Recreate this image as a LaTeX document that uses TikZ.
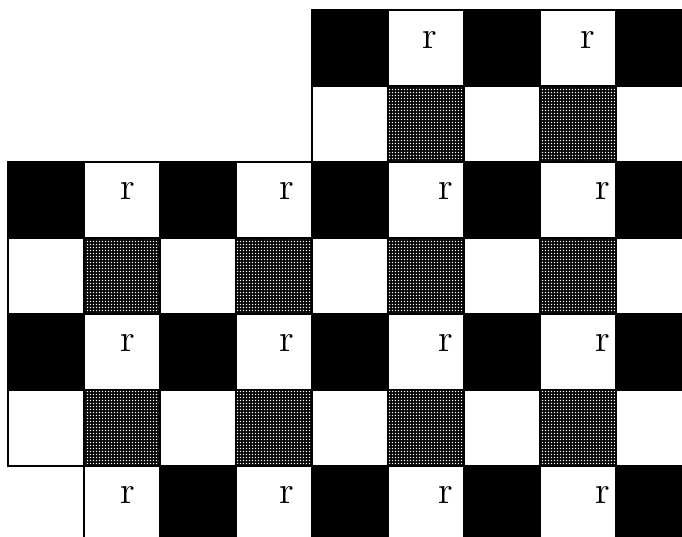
\documentclass[tikz,border=0pt]{standalone}
\usepackage{tikz}
\usetikzlibrary{patterns}

% fine white dot grid laid over black
\pgfdeclarepatternformonly{dotgrid}{\pgfpointorigin}{\pgfpoint{1.12pt}{1.12pt}}{\pgfpoint{1.12pt}{1.12pt}}{%
  \pgfpathrectangle{\pgfpoint{0.3pt}{0.3pt}}{\pgfpoint{0.48pt}{0.48pt}}%
  \pgfusepath{fill}}

\tikzset{
  blackcell/.style={fill=black, draw=black, line width=0.8pt},
  hatchcell/.style={preaction={fill=black}, pattern=dotgrid, pattern color=white, draw=black, line width=0.8pt},
  rlabel/.style={font=\fontsize{14.4}{17}\selectfont, inner sep=0pt},
  rim/.style={line width=0.8pt}
}

\begin{document}
\begin{tikzpicture}
  \useasboundingbox (-0.105,0.079) rectangle (8.868,7.132);

  % Upper block
  \foreach \c in {4,6,8} \path[blackcell] (\c,6) rectangle ++(1,1);
  \foreach \c in {5,7} \path[hatchcell] (\c,5) rectangle ++(1,1);

  % Full rows
  \foreach \y in {4,2} {
    \foreach \c in {0,2,4,6,8} \path[blackcell] (\c,\y) rectangle ++(1,1);
    \foreach \c in {1,3,5,7} \path[hatchcell] (\c,\y-1) rectangle ++(1,1);
  }

  % Bottom row
  \foreach \c in {2,4,6,8} \path[blackcell] (\c,0) rectangle ++(1,1);

  % Outline
  \draw[rim] (9,7) -- (4,7) -- (4,5) -- (0,5) -- (0,1) -- (1,1) -- (1,0);

  % Labels
  \node[rlabel] (r01) at (5.55,6.60) {r};
  \node[rlabel] (r02) at (7.63,6.60) {r};
  \foreach \y/\n in {4.62/2,2.62/4,0.62/6}
    \foreach \x/\m in {1.58/1,3.67/2,5.76/3,7.83/4}
      \node[rlabel] (r\n\m) at (\x,\y) {r};
\end{tikzpicture}
\end{document}
